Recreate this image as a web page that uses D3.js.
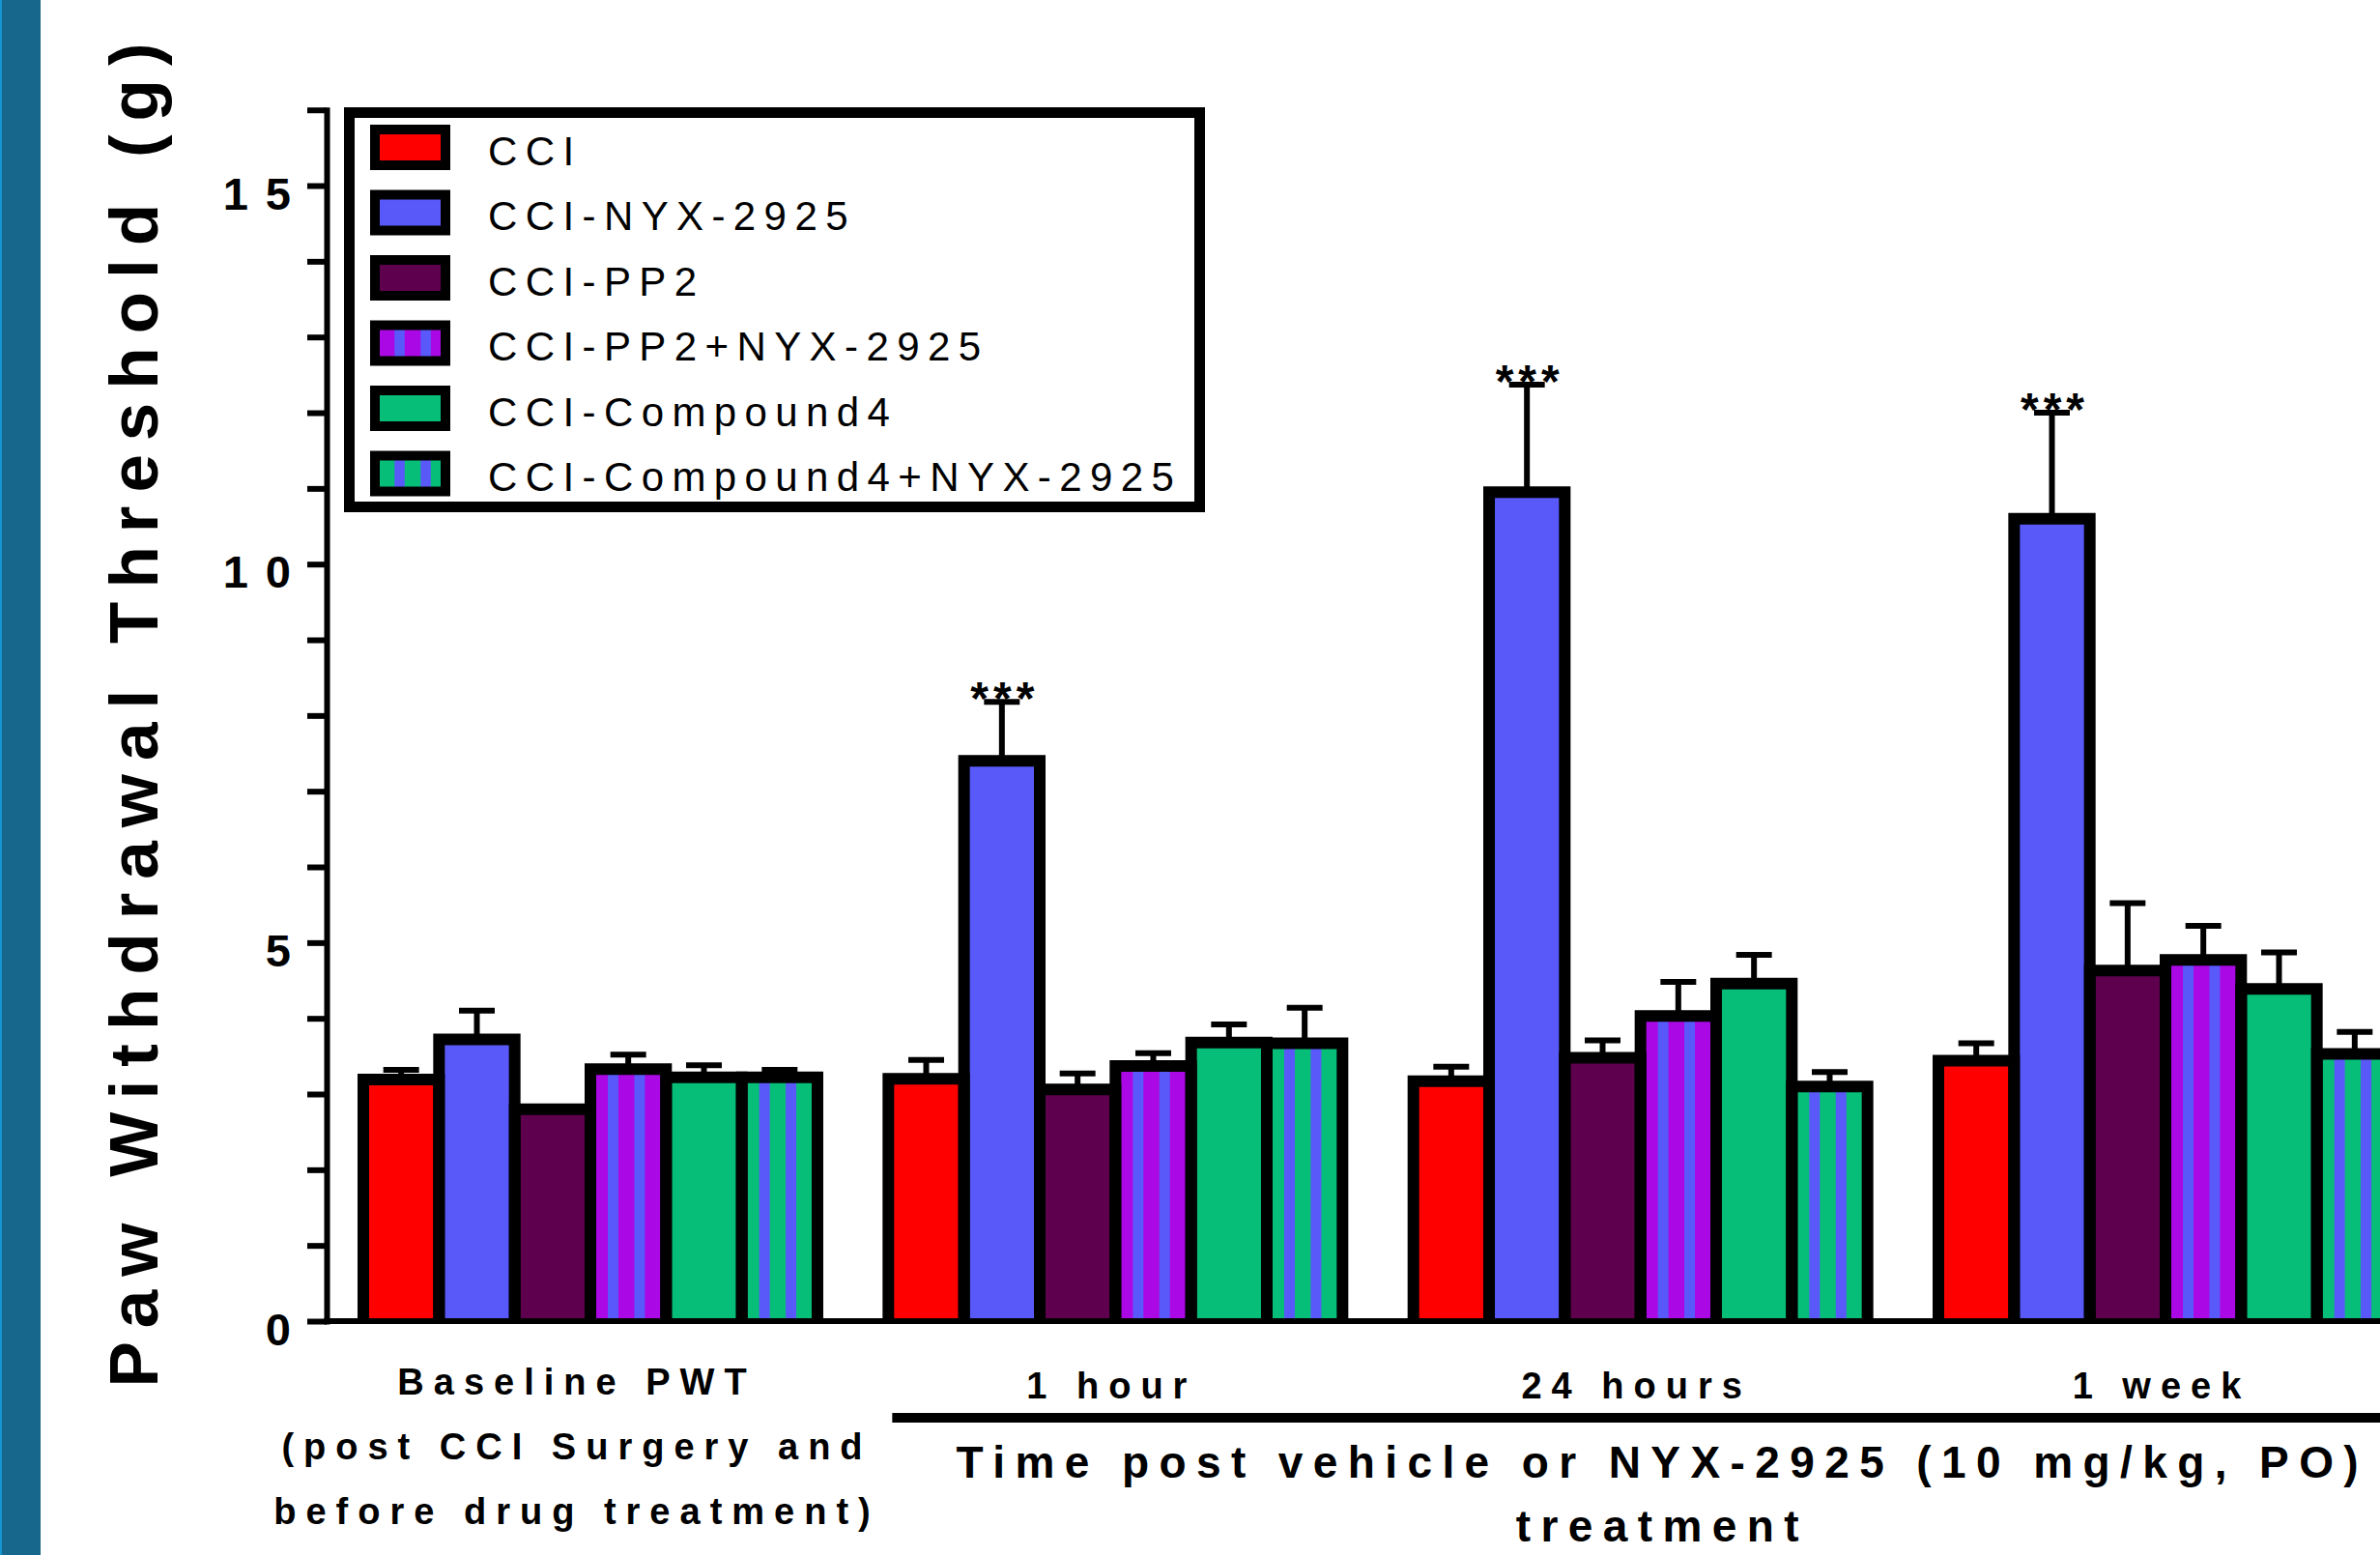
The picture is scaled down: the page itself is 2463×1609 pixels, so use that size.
<!DOCTYPE html>
<html>
<head>
<meta charset="utf-8">
<script src="https://cdn.jsdelivr.net/npm/d3@7"></script>
<style>
  html, body { margin: 0; padding: 0; background: #fff; }
  svg { display: block; font-family: "Liberation Sans", Arial, sans-serif; }
</style>
</head>
<body>
<div id="chart"></div>
<script>
// time points and their axis labels
const groups = ['Baseline', '1 hour', '24 hours', '1 week'];
const groupLabels = [
    ['Baseline PWT', '(post CCI Surgery and', 'before drug treatment)'],
    ['1 hour'],
    ['24 hours'],
    ['1 week']
];

// series (legend order)
const seriesNames = ['CCI', 'CCI-NYX-2925', 'CCI-PP2', 'CCI-PP2+NYX-2925', 'CCI-Compound4', 'CCI-Compound4+NYX-2925'];
const seriesColors = ['#ff0000', '#5959fa', '#5e004e', '#aa08e4', '#06be78', '#06be78'];
const stripeColors = [null, null, null, '#5959fa', null, '#5959fa'];

// mean paw withdrawal threshold (g), one value per time point
const meanCCI = [3.19, 3.20, 3.17, 3.44];
const meanNYX = [3.72, 7.40, 10.95, 10.60];
const meanPP2 = [2.80, 3.06, 3.48, 4.63];
const meanPP2NYX = [3.33, 3.37, 4.03, 4.77];
const meanCmp4 = [3.22, 3.68, 4.46, 4.39];
const meanCmp4NYX = [3.22, 3.67, 3.10, 3.53];

// SEM
const errCCI = [0.13, 0.25, 0.19, 0.23];
const errNYX = [0.38, 0.78, 1.42, 1.40];
const errPP2 = [0.03, 0.21, 0.23, 0.89];
const errPP2NYX = [0.19, 0.17, 0.45, 0.45];
const errCmp4 = [0.16, 0.24, 0.38, 0.48];
const errCmp4NYX = [0.10, 0.47, 0.19, 0.29];

// significance marks for CCI-NYX-2925
const sigNYX = ['', '***', '***', '***'];

const yTickValues = d3.range(0, 17);
const yTickLabels = [0, 5, 10, 15];

const allMeans = [meanCCI, meanNYX, meanPP2, meanPP2NYX, meanCmp4, meanCmp4NYX];
const allErrs = [errCCI, errNYX, errPP2, errPP2NYX, errCmp4, errCmp4NYX];
const allSig = [null, sigNYX, null, null, null, null];

const width = 2463;
const height = 1609;

const svg = d3.select('#chart').append('svg')
    .attr('width', width)
    .attr('height', height);

// blue band on the left edge
svg.append('rect').attr('x', 0).attr('y', 0).attr('width', 42).attr('height', height).attr('fill', '#17668b');
svg.append('rect').attr('x', 0).attr('y', 0).attr('width', 2).attr('height', height).attr('fill', '#1596d2');

const y = d3.scaleLinear().domain([0, 16]).range([1367, 113.7]);
const x0 = d3.scaleBand().domain(groups).range([376, 2476]).paddingInner(0.135);
const x1 = d3.scaleBand().domain(seriesNames).range([0, x0.bandwidth()]);
const bw = x1.bandwidth();

const barData = [];
groups.forEach((g, gi) => {
    seriesNames.forEach((name, si) => {
        barData.push({
            group: g,
            name: name,
            mean: allMeans[si][gi],
            err: allErrs[si][gi],
            sig: allSig[si] ? allSig[si][gi] : '',
            color: seriesColors[si],
            stripe: stripeColors[si]
        });
    });
});

const bx = d => x0(d.group) + x1(d.name);

const barsG = svg.append('g');

// fills
barsG.selectAll('.bar-fill')
    .data(barData)
    .enter().append('rect')
    .attr('class', 'bar-fill')
    .attr('x', bx)
    .attr('y', d => y(d.mean))
    .attr('width', bw)
    .attr('height', d => y(0) - y(d.mean))
    .attr('fill', d => d.color);

// vertical stripes on the combination bars
const stripeFrac = [0.30, 0.65];
barData.filter(d => d.stripe).forEach(d => {
    stripeFrac.forEach(f => {
        barsG.append('rect')
            .attr('x', bx(d) + bw * f - bw * 0.07)
            .attr('y', y(d.mean))
            .attr('width', bw * 0.14)
            .attr('height', y(0) - y(d.mean))
            .attr('fill', d.stripe);
    });
});

// outlines (no bottom edge, the axis covers it)
barsG.selectAll('.bar-edge')
    .data(barData)
    .enter().append('path')
    .attr('class', 'bar-edge')
    .attr('d', d => `M${bx(d)},${y(0)}V${y(d.mean)}H${bx(d) + bw}V${y(0)}`)
    .attr('fill', 'none')
    .attr('stroke', '#000')
    .attr('stroke-width', 12)
    .attr('stroke-linejoin', 'miter');

// error bars (upper only)
const capHalf = bw * 0.236;
barsG.selectAll('.err')
    .data(barData)
    .enter().append('path')
    .attr('class', 'err')
    .attr('d', d => {
        const cx = bx(d) + bw / 2;
        const top = y(d.mean + d.err);
        return `M${cx},${y(d.mean)}V${top}M${cx - capHalf},${top}H${cx + capHalf}`;
    })
    .attr('fill', 'none')
    .attr('stroke', '#000')
    .attr('stroke-width', 6);

// significance stars
barsG.selectAll('.sig')
    .data(barData.filter(d => d.sig))
    .enter().append('text')
    .attr('class', 'sig')
    .attr('x', d => bx(d) + bw / 2 + 3)
    .attr('y', d => y(d.mean + d.err) + 13)
    .attr('text-anchor', 'middle')
    .style('font-size', '48px')
    .style('font-weight', 'bold')
    .style('letter-spacing', '5px')
    .text(d => d.sig);

// y axis
const yAxis = d3.axisLeft(y)
    .tickValues(yTickValues)
    .tickSize(20)
    .tickSizeOuter(0)
    .tickFormat(d => yTickLabels.includes(d) ? d : '');

const gy = svg.append('g')
    .attr('transform', 'translate(338,0)')
    .call(yAxis);

gy.select('.domain')
    .attr('stroke', '#000')
    .attr('stroke-width', 6)
    .attr('stroke-linecap', 'square');
gy.selectAll('.tick line')
    .attr('stroke', '#000')
    .attr('stroke-width', 6);
gy.selectAll('.tick text')
    .attr('x', -19)
    .attr('dy', 24)
    .attr('fill', '#000')
    .style('font-family', '"Liberation Sans", Arial, sans-serif')
    .style('font-size', '47px')
    .style('font-weight', 'bold')
    .style('letter-spacing', '18px');

// x baseline
svg.append('line')
    .attr('x1', 335)
    .attr('x2', width)
    .attr('y1', y(0))
    .attr('y2', y(0))
    .attr('stroke', '#000')
    .attr('stroke-width', 6);

// y title
svg.append('text')
    .attr('transform', 'translate(163,733) rotate(-90)')
    .attr('text-anchor', 'middle')
    .style('font-size', '71px')
    .style('font-weight', 'bold')
    .style('letter-spacing', '14px')
    .text('Paw Withdrawal Threshold (g)');

// group labels
const xLabels = svg.append('g')
    .attr('text-anchor', 'middle')
    .style('font-size', '38px')
    .style('font-weight', 'bold')
    .style('letter-spacing', '10px');

groups.forEach((g, gi) => {
    const cx = x0(g) + x0.bandwidth() / 2 + (gi === 0 ? -14 : -4);
    groupLabels[gi].forEach((line, li) => {
        xLabels.append('text')
            .attr('x', cx)
            .attr('y', (gi === 0 ? 1443 : 1447) + li * 67)
            .text(line);
    });
});

// bracket under the treated time points and its title
svg.append('line')
    .attr('x1', x0(groups[1]) + 4)
    .attr('x2', width)
    .attr('y1', 1467)
    .attr('y2', 1467)
    .attr('stroke', '#000')
    .attr('stroke-width', 10);

const titleX = x0(groups[1]) + 801;
['Time post vehicle or NYX-2925 (10 mg/kg, PO)', 'treatment'].forEach((line, i) => {
    svg.append('text')
        .attr('x', titleX)
        .attr('y', 1529 + i * 66)
        .attr('text-anchor', 'middle')
        .style('font-size', '46px')
        .style('font-weight', 'bold')
        .style('letter-spacing', '10.4px')
        .text(line);
});

// legend
const legend = svg.append('g');
legend.append('rect')
    .attr('x', 361.5)
    .attr('y', 116.5)
    .attr('width', 880)
    .attr('height', 408)
    .attr('fill', '#fff')
    .attr('stroke', '#000')
    .attr('stroke-width', 11);

const legendRows = legend.selectAll('.legend-row')
    .data(seriesNames)
    .enter().append('g')
    .attr('class', 'legend-row')
    .attr('transform', (d, i) => `translate(388,${152.5 + i * 67.5})`);

legendRows.append('rect')
    .attr('x', 0)
    .attr('y', -18.5)
    .attr('width', 73)
    .attr('height', 37)
    .attr('fill', (d, i) => seriesColors[i]);

legendRows.each(function (d, i) {
    if (!stripeColors[i]) return;
    [0.35, 0.72].forEach(f => {
        d3.select(this).append('rect')
            .attr('x', 73 * f - 5.25)
            .attr('y', -18.5)
            .attr('width', 10.5)
            .attr('height', 37)
            .attr('fill', stripeColors[i]);
    });
});

legendRows.append('rect')
    .attr('x', 0)
    .attr('y', -18.5)
    .attr('width', 73)
    .attr('height', 37)
    .attr('fill', 'none')
    .attr('stroke', '#000')
    .attr('stroke-width', 10);

legendRows.append('text')
    .attr('x', 117)
    .attr('y', 18)
    .style('font-size', '42px')
    .style('letter-spacing', '8.4px')
    .text(d => d);
</script>
</body>
</html>
